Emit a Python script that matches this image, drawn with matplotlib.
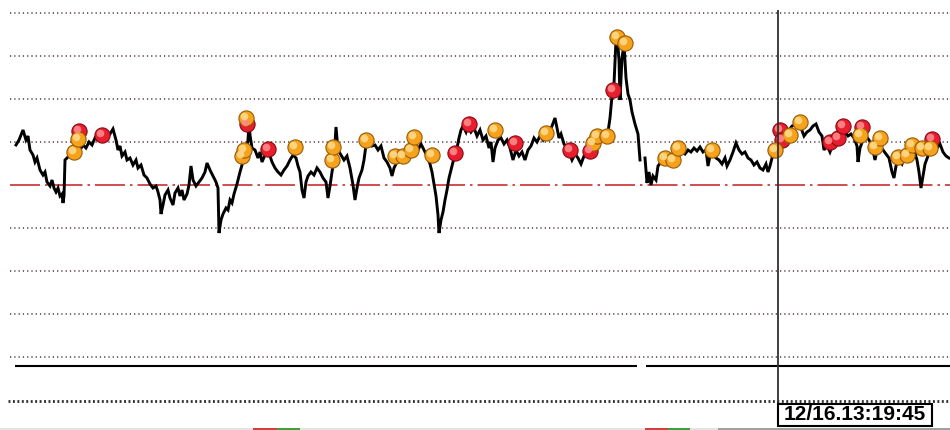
import matplotlib
matplotlib.use("Agg")
import matplotlib.pyplot as plt
from matplotlib.patches import Rectangle
from matplotlib.transforms import ScaledTranslation
import numpy as np

# price path: bar index and level above the bottom line
bars = [16, 19, 23, 26, 28, 30, 33, 35, 37, 40, 43, 45, 47, 50, 52, 54, 56, 58,
        60, 62, 63, 64, 65, 68, 71, 74, 77, 80, 83, 86, 89, 92, 95, 98, 101,
        104, 107, 110, 113, 116, 118, 120, 122, 125, 127, 130, 133, 136, 138,
        141, 144, 147, 150, 153, 156, 158, 160, 161, 163, 165, 168, 170, 173,
        175, 178, 180, 182, 184, 187, 189, 191, 193, 196, 199, 202, 205, 207,
        210, 213, 216, 218, 219, 221, 223, 226, 228, 230, 232, 234, 237, 240,
        242, 244, 246, 248, 249, 250, 252, 255, 258, 260, 262, 265, 268, 270,
        272, 275, 278, 281, 284, 287, 290, 293, 296, 298, 300, 302, 304, 306,
        308, 311, 314, 317, 320, 323, 326, 328, 330, 332, 334, 336, 338, 341,
        344, 347, 350, 353, 355, 357, 359, 362, 364, 366, 369, 372, 375, 378,
        381, 384, 387, 390, 392, 394, 397, 400, 403, 406, 409, 412, 415, 418,
        421, 424, 427, 430, 432, 434, 436, 438, 439, 441, 443, 445, 447, 449,
        451, 453, 455, 457, 459, 461, 463, 466, 468, 471, 474, 477, 480, 483,
        486, 489, 491, 493, 495, 498, 501, 504, 507, 510, 513, 516, 519, 522,
        525, 528, 531, 534, 537, 540, 543, 546, 549, 552, 555, 557, 559, 561,
        564, 567, 569, 572, 575, 578, 581, 584, 587, 590, 593, 596, 599, 602,
        605, 608, 610, 612, 614, 616, 617, 619, 620, 622, 624, 626, 628, 630,
        632, 635, 638, 640, 642,
        645, 647, 649, 651, 653, 656, 658, 661, 664, 667, 670, 673, 676, 679,
        682, 685, 688, 691, 694, 697, 700, 703, 706, 708, 710, 713, 716, 719,
        722, 725, 727, 730, 733, 736, 739, 742, 745, 748, 751, 754, 757, 760,
        763, 766, 768, 770, 772, 775, 777, 780, 783, 786, 789, 792, 795, 798,
        801, 804, 807, 810, 813, 816, 819, 822, 824, 827, 830, 833, 836, 839,
        842, 845, 848, 851, 854, 857, 858, 860, 863, 866, 869, 872, 875, 877,
        880, 883, 886, 889, 892, 894, 896, 899, 902, 905, 908, 911, 914, 917,
        919, 921, 923, 925, 928, 931, 934, 937, 940, 943, 946, 949]
price = [256, 261, 271, 261, 265, 251, 246, 239, 243, 231, 226, 229, 219, 215,
         221, 213, 209, 213, 205, 207, 198, 205, 241, 244, 247, 249, 253, 251,
         256, 253, 259, 256, 263, 261, 267, 264, 269, 267, 272, 261, 251, 255,
         245, 249, 241, 243, 236, 241, 233, 236, 226, 223, 217, 213, 215, 209,
         201, 187, 196, 206, 211, 203, 196, 208, 213, 205, 211, 201, 207, 216,
         235, 221, 215, 219, 223, 229, 238, 231, 225, 219, 213, 168, 181, 187,
         193, 191, 201, 198, 207, 217, 229, 236, 243, 249, 261, 279, 266, 253,
         251, 243, 249, 239, 246, 251, 245, 239, 233, 229, 226, 231, 235, 241,
         246, 243, 235, 229, 211, 203, 219, 225, 229, 226, 233, 229, 223, 219,
         203, 215, 229, 241, 274, 251, 246, 241, 245, 233, 216, 201, 213, 223,
         231, 241, 256, 259, 255, 256, 251, 255, 243, 239, 233, 225, 233, 239,
         243, 241, 247, 251, 255, 261, 251, 257, 251, 245, 237, 229, 217, 205,
         186, 168, 181, 189, 201, 211, 223, 231, 239, 245, 253, 263, 271, 275,
         269, 276, 269, 273, 265, 271, 261, 265, 253, 259, 239, 253, 261, 263,
         257, 261, 253, 241, 251, 245, 249, 241, 251, 255, 263, 259, 265, 261,
         267, 269, 275, 283, 273, 263, 267, 257, 253, 249, 241, 247, 243, 237,
         245, 249, 253, 257, 261, 257, 263, 265, 269, 283, 305, 317, 361, 367,
         341, 301, 343, 357, 323, 307, 301, 289, 277, 267, 241, np.nan,
         243, 218, 229, 216, 225, 221, 235, 239, 237, 243, 239, 245, 249, 245,
         249, 247, 251, 249, 253, 250, 254, 249, 251, 235, 245, 247, 243, 241,
         237, 243, 235, 241, 249, 258, 251, 247, 249, 243, 241, 236, 239, 233,
         231, 237, 229, 235, 243, 251, 261, 266, 273, 265, 271, 275, 276, 279,
         273, 265, 269, 271, 275, 277, 269, 265, 251, 256, 249, 257, 261, 263,
         267, 269, 265, 267, 263, 255, 239, 253, 261, 265, 261, 255, 241, 251,
         255, 251, 247, 243, 229, 223, 235, 241, 237, 245, 249, 255, 251, 241,
         229, 213, 225, 237, 245, 251, 255, 253, 257, 249, 245, 243]

# signal balls
orange_bars = [74, 78, 242, 244, 246, 295, 332, 333, 366, 395, 403, 411, 414,
               432, 495, 546, 593, 597, 607, 617, 625, 665, 673, 678, 712, 775,
               790, 800, 860, 875, 880, 898, 907, 912, 922, 930]
orange_price = [249, 262, 245, 251, 283, 254, 241, 254, 261, 245, 245, 251,
                264, 246, 271, 268, 258, 265, 265, 364, 358, 243, 241, 253,
                251, 251, 266, 279, 266, 254, 263, 244, 246, 256, 253, 253]
red_bars = [79, 102, 247, 268, 455, 469, 515, 570, 590, 613, 780, 782, 830,
            838, 843, 862, 932]
red_price = [270, 266, 277, 252, 248, 277, 258, 251, 250, 311, 271, 261, 259,
             263, 275, 274, 262]

grid_levels = [388, 345, 302, 259, 173, 130, 87, 44]
base_level = 216
bottom_level = 0
lower_line_level = 35
cursor_bar = 778
cursor_label = "12/16.13:19:45"


def draw_balls(ax, x, y, face, edge, shine) -> None:
    """ Glossy ball markers. """
    ax.scatter(x, y, s=120, c=face, edgecolors=edge, linewidths=0.8,
               zorder=4)
    off = ScaledTranslation(-1.5 / 72, 1.8 / 72, ax.figure.dpi_scale_trans)
    ax.scatter(x, y, s=30, c=shine, linewidths=0, alpha=0.9, zorder=5,
               transform=ax.transData + off)


def main():
    fig = plt.figure(figsize=(9.5, 4.3), dpi=100)
    ax = fig.add_axes([0, 0, 1, 1])
    ax.set_xlim(0, 950)
    ax.set_ylim(-29, 401)
    ax.axis("off")

    for lvl in grid_levels:
        ax.hlines(lvl, 10, 950, colors="#503838", linewidth=1.1,
                  linestyles=(0, (0.8, 2.0)), zorder=1)
    ax.hlines(base_level, 10, 950, colors="#c83030", linewidth=1.2,
              linestyles=(0, (18, 3, 1.5, 3)), zorder=1)
    ax.hlines(bottom_level, 8, 950, colors="#303030", linewidth=2.0,
              linestyles=(0, (0.7, 0.9)), zorder=1)
    ax.hlines([lower_line_level] * 2, [15, 646], [637, 950], colors="black",
              linewidth=1.5, zorder=2)

    ax.plot(bars, price, color="black", linewidth=2.1, zorder=3,
            solid_joinstyle="miter")

    draw_balls(ax, red_bars, red_price, "#e61e2e", "#8a0a14", "#ff8a8a")
    draw_balls(ax, orange_bars, orange_price, "#f5a21c", "#9a5a06",
               "#ffd98a")

    # cursor and time label
    ax.vlines(cursor_bar, -3, 391, colors="#303030", linewidth=1.3, zorder=6)
    ax.add_patch(Rectangle((cursor_bar, -25), 154, 22, facecolor="white",
                           edgecolor="black", linewidth=1.5, zorder=7))
    ax.text(cursor_bar + 77, -14, cursor_label, ha="center", va="center",
            fontsize=15, fontweight="bold", zorder=8,
            family=["Liberation Sans", "DejaVu Sans"])

    # bottom status strip
    ax.add_patch(Rectangle((0, -29), 950, 2, facecolor="#e4e4e4",
                           edgecolor="none"))
    for x0, w, col in [(253, 24, "#d04040"), (277, 23, "#40a040"),
                       (645, 23, "#d04040"), (668, 22, "#40a040"),
                       (718, 232, "#a0a0a0")]:
        ax.add_patch(Rectangle((x0, -29), w, 2, facecolor=col,
                               edgecolor="none"))

    fig.savefig("out.png", dpi=100)


if __name__ == "__main__":
    main()
